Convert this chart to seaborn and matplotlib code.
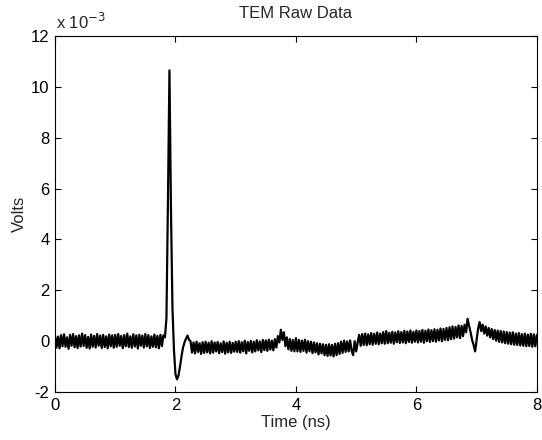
import matplotlib

matplotlib.use("Agg")
import matplotlib.pyplot as plt
import numpy as np
import pandas as pd
import seaborn as sns
from matplotlib.ticker import FuncFormatter

STEP_NS = 0.025
trace_0_1ns = [0.22, -0.25, 0.18, -0.28, 0.24, -0.20, 0.27, -0.22, 0.15, -0.30,
               0.25, -0.18, 0.28, -0.24, 0.20, -0.27, 0.23, -0.21, 0.30, -0.19,
               0.24, -0.26, 0.17, -0.29, 0.26, -0.22, 0.21, -0.25, 0.28, -0.18,
               0.22, -0.27, 0.25, -0.23, 0.19, -0.28, 0.26, -0.20, 0.23, -0.26]
trace_1_2ns = [0.25, -0.22, 0.28, -0.18, 0.21, -0.27, 0.24, -0.20, 0.30, -0.23,
               0.19, -0.26, 0.27, -0.21, 0.23, -0.29, 0.25, -0.18, 0.22, -0.25,
               0.28, -0.20, 0.24, -0.27, 0.19, -0.22, 0.26, -0.24, 0.21, -0.28,
               0.25, -0.19, 0.23, 0.15, 0.90, 5.50, 10.65, 5.20, 1.30, -0.35]
trace_2_3ns = [-1.30, -1.50, -1.35, -1.00, -0.60, -0.25, -0.05, 0.10, 0.22, 0.05,
               0.00, -0.45, -0.05, -0.48, -0.02, -0.42, -0.08, -0.50, -0.04, -0.46,
               -0.02, -0.44, -0.06, -0.48, 0.00, -0.45, -0.05, -0.40, -0.03, -0.47,
               -0.08, -0.43, -0.01, -0.49, -0.06, -0.44, -0.02, -0.46, -0.07, -0.41]
trace_3_4ns = [-0.02, -0.42, 0.00, -0.45, -0.04, -0.40, 0.02, -0.48, -0.03, -0.38,
               0.01, -0.44, -0.02, -0.40, 0.04, -0.36, -0.01, -0.43, 0.05, -0.35,
               0.03, -0.38, 0.06, -0.33, 0.02, -0.36, 0.08, -0.25, 0.20, -0.05,
               0.45, 0.05, 0.35, -0.20, 0.15, -0.32, 0.08, -0.38, 0.05, -0.40]
trace_4_5ns = [0.12, -0.40, 0.05, -0.42, 0.02, -0.38, 0.06, -0.45, 0.00, -0.40,
               -0.02, -0.47, -0.05, -0.44, -0.08, -0.52, -0.10, -0.48, -0.12, -0.55,
               -0.14, -0.58, -0.12, -0.56, -0.15, -0.60, -0.10, -0.55, -0.08, -0.50,
               -0.02, -0.46, 0.02, -0.42, -0.01, -0.40, 0.03, -0.38, -0.55, 0.00]
trace_5_6ns = [-0.40, -0.05, 0.25, -0.18, 0.28, -0.15, 0.30, -0.16, 0.27, -0.12,
               0.32, -0.14, 0.29, -0.10, 0.34, -0.12, 0.30, -0.08, 0.36, -0.10,
               0.40, -0.08, 0.33, -0.06, 0.37, -0.10, 0.35, -0.04, 0.39, -0.07,
               0.36, -0.05, 0.41, -0.08, 0.38, -0.03, 0.42, -0.06, 0.37, -0.02]
trace_6_7ns = [0.42, -0.05, 0.40, -0.02, 0.44, -0.06, 0.41, 0.00, 0.46, -0.03,
               0.43, 0.00, 0.47, -0.02, 0.45, 0.03, 0.50, 0.00, 0.48, 0.05,
               0.52, 0.04, 0.55, 0.08, 0.58, 0.10, 0.56, 0.15, 0.62, 0.12,
               0.60, 0.20, 0.65, 0.35, 0.88, 0.60, 0.35, 0.05, -0.15, -0.40]
trace_7_8ns = [0.05, 0.50, 0.75, 0.40, 0.65, 0.30, 0.58, 0.22, 0.52, 0.15,
               0.48, 0.08, 0.44, 0.02, 0.42, -0.03, 0.40, -0.05, 0.38, -0.08,
               0.36, -0.10, 0.34, -0.12, 0.35, -0.14, 0.30, -0.15, 0.32, -0.17,
               0.28, -0.18, 0.30, -0.20, 0.26, -0.19, 0.29, -0.22, 0.27, -0.20, 0.25]

segments = [trace_0_1ns, trace_1_2ns, trace_2_3ns, trace_3_4ns,
            trace_4_5ns, trace_5_6ns, trace_6_7ns, trace_7_8ns]

x_ticks = [0, 2, 4, 6, 8]
y_ticks_mv = [-2, 0, 2, 4, 6, 8, 10, 12]

times, values = [], []
for start_ns, seg in enumerate(segments):
    times.extend(start_ns + STEP_NS * np.arange(len(seg)))
    values.extend(seg)
df = pd.DataFrame({"time": times, "volts": np.array(values) * 1e-3})

sns.set_theme(style="ticks")
plt.rcParams["font.family"] = ["Liberation Sans", "DejaVu Sans"]
FS = 12

fig = plt.figure(figsize=(5.42, 4.40), dpi=100)
ax = fig.add_axes([0.1015, 0.109, 0.889, 0.809])

sns.lineplot(data=df, x="time", y="volts", ax=ax, color="black", linewidth=1.6,
             estimator=None, sort=False)

ax.set_xlim(0, 8)
ax.set_ylim(-2e-3, 12e-3)
ax.set_xticks(x_ticks)
ax.set_yticks([v * 1e-3 for v in y_ticks_mv])
ax.yaxis.set_major_formatter(FuncFormatter(lambda v, _: f"{v * 1e3:.0f}"))
ax.tick_params(direction="in", length=4, width=0.8, top=True, right=True,
               labelsize=FS, colors="black", pad=4)
for side in ax.spines.values():
    side.set_visible(True)
    side.set_color("black")
    side.set_linewidth(0.8)

ax.set_title("TEM Raw Data", fontsize=FS, pad=13)
ax.set_xlabel("Time (ns)", fontsize=FS, labelpad=2)
ax.set_ylabel("Volts", fontsize=FS, labelpad=3)
ax.text(0.003, 1.012, r"x 10$^{-3}$", transform=ax.transAxes, ha="left", va="bottom", fontsize=FS)

fig.savefig("out.png", dpi=100)
plt.close(fig)
